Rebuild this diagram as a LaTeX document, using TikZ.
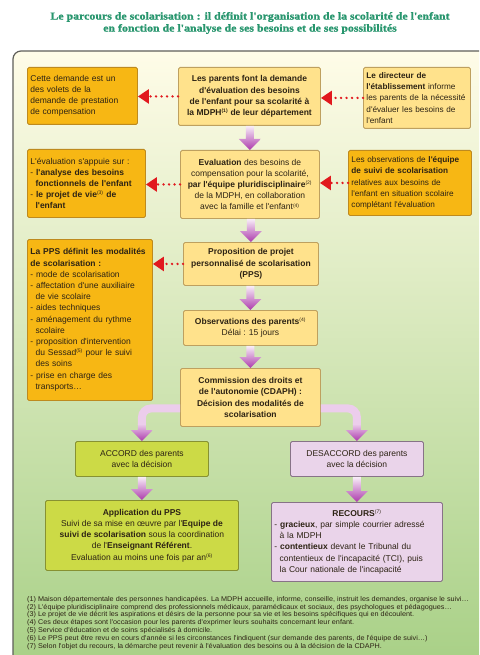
\documentclass[tikz,border=0pt]{standalone}
\usepackage{fontspec}
\setmainfont{Liberation Serif}
\newfontfamily\boxfont{Liberation Sans}
\newfontfamily\notefont[FakeStretch=1.05]{Liberation Sans}
\newfontfamily\titlefont[FakeStretch=1.12,FakeBold=1.2]{Liberation Serif Bold}
\usetikzlibrary{arrows.meta,calc,shadings}

\definecolor{orangebox}{RGB}{247,183,20}
\definecolor{orangeline}{RGB}{190,138,30}
\definecolor{lightbox}{RGB}{255,226,140}
\definecolor{lightline}{RGB}{190,160,95}
\definecolor{greenbox}{RGB}{204,218,70}
\definecolor{greenline}{RGB}{135,145,50}
\definecolor{pinkbox}{RGB}{234,212,234}
\definecolor{pinkline}{RGB}{135,115,135}
\definecolor{titlecol}{RGB}{40,150,110}
\definecolor{txt}{RGB}{45,35,20}
\definecolor{dotred}{RGB}{225,25,30}
\definecolor{arrtop}{RGB}{248,238,248}
\definecolor{arrbot}{RGB}{172,58,172}
\definecolor{linklilac}{RGB}{236,205,236}
\definecolor{bgtop}{RGB}{255,252,232}
\definecolor{bgmid}{RGB}{220,235,194}
\definecolor{bgbot}{RGB}{166,207,132}
\definecolor{framecol}{RGB}{95,95,90}

\newcommand{\fnm}[1]{\textsuperscript{\fontsize{5}{5}\selectfont(#1)}}
\newcommand{\indt}{\hspace*{0.61em}}
\newcommand{\DownArr}[3][arrtop]{%
  \shade[top color=#1, bottom color=arrbot] let \p1=#2, \p2=#3 in
  (\x2-4pt,\y1) -- (\x2-4pt,\y2+11pt) -- (\x2-11pt,\y2+11pt) -- (\x2,\y2)
  -- (\x2+11pt,\y2+11pt) -- (\x2+4pt,\y2+11pt) -- (\x2+4pt,\y1) -- cycle;}

\tikzset{
  bx/.style={draw, line width=0.9pt, rounded corners=1.5pt, anchor=north west,
    inner xsep=3pt, inner ysep=2pt, text=txt,
    font=\boxfont\fontsize{8.5}{11.2}\selectfont},
  bb/.style={font=\boxfont\bfseries\fontsize{8.5}{11.2}\selectfont},
  sm/.style={font=\boxfont\fontsize{8.2}{11.2}\selectfont},
  orng/.style={bx, fill=orangebox, draw=orangeline, align=left},
  lite/.style={bx, fill=lightbox, draw=lightline, align=center},
  grn/.style={bx, fill=greenbox, draw=greenline, align=center},
  pnk/.style={bx, fill=pinkbox, draw=pinkline, align=center},
  reddots/.style={draw=dotred, line width=2.6pt, dash pattern=on 0pt off 5.5pt,
    line cap=round, -{Triangle[length=11pt,width=14pt]}},
  link/.style={draw=linklilac, line width=8pt, rounded corners=9pt},
}

\begin{document}
\begin{tikzpicture}[x=1pt,y=-1pt]
\path[use as bounding box] (0,0) rectangle (479,655);
\clip (0,0) rectangle (479,655);
\fill[white] (0,0) rectangle (479,655);

% frame with gradient
\shadedraw[top color=bgtop, middle color=bgmid, bottom color=bgbot,
  draw=framecol, line width=1.2pt, rounded corners=8pt] (13,51) rectangle (495,680);

% title
\node[font=\titlefont\fontsize{10.6}{12}\selectfont, text=titlecol, align=center]
  (title) at (250,23) {Le parcours de scolarisation : il définit l'organisation de la scolarité de l'enfant\\
  en fonction de l'analyse de ses besoins et de ses possibilités};

% row 1
\node[orng, text width=104pt, minimum height=57pt] (l1) at (27,67)
  {Cette demande est un\\des volets de la\\demande de prestation\\de compensation};
\node[lite, bb, minimum width=142pt, minimum height=58pt] (c1) at (178,67)
  {Les parents font la demande\\d'évaluation des besoins\\de l'enfant pour sa scolarité à\\la MDPH\fnm{1} de leur département};
\node[bx, sm, fill=lightbox, draw=lightline, align=left, text width=101pt, minimum height=61pt] (r1) at (363,67)
  {\textbf{Le directeur de}\\\textbf{l'établissement} informe\\les parents de la nécessité\\d'évaluer les besoins de\\l'enfant};

% row 2
\node[orng, text width=112pt, minimum height=68pt] (l2) at (27,149)
  {L'évaluation s'appuie sur :\\- \textbf{l'analyse des besoins}\\\indt\textbf{fonctionnels de l'enfant}\\- \textbf{le projet de vie}\fnm{3} \textbf{de}\\\indt\textbf{l'enfant}};
\node[lite, minimum width=139pt, minimum height=68pt] (c2) at (180,150)
  {\textbf{Evaluation} des besoins de\\compensation pour la scolarité,\\\textbf{par l'équipe pluridisciplinaire}\fnm{2}\\de la MDPH, en collaboration\\avec la famille et l'enfant\fnm{4}};
\node[orng, sm, text width=117pt, minimum height=65pt] (r2) at (348,150)
  {Les observations de \textbf{l'équipe}\\\textbf{de suivi de scolarisation}\\relatives aux besoins de\\l'enfant en situation scolaire\\complétant l'évaluation};

% row 3
\node[orng, text width=119pt, minimum height=161pt] (l3) at (27,239)
  {\textbf{La PPS définit les modalités}\\\textbf{de scolarisation :}\\- mode de scolarisation\\- affectation d'une auxiliaire\\\indt de vie scolaire\\- aides techniques\\- aménagement du rythme\\\indt scolaire\\- proposition d'intervention\\\indt du Sessad\fnm{5} pour le suivi\\\indt des soins\\- prise en charge des\\\indt transports…};
\node[lite, bb, minimum width=135pt, minimum height=43pt] (c3) at (183,242)
  {Proposition de projet\\personnalisé de scolarisation\\(PPS)};
\node[lite, minimum width=134pt, minimum height=35pt] (obs) at (183,310)
  {\textbf{Observations des parents}\fnm{4}\\Délai : 15 jours};
\node[lite, bb, minimum width=140pt, minimum height=58pt] (com) at (180,368)
  {Commission des droits et\\de l'autonomie (CDAPH) :\\Décision des modalités de\\scolarisation};

% lower
\node[grn, minimum width=133pt, minimum height=35pt] (acc) at (75,441)
  {ACCORD des parents\\avec la décision};
\node[grn, minimum width=193pt, minimum height=70pt] (app) at (45,500)
  {\textbf{Application du PPS}\\Suivi de sa mise en œuvre par l'\textbf{Equipe de}\\\textbf{suivi de scolarisation} sous la coordination\\de l'\textbf{Enseignant Référent}.\\Evaluation au moins une fois par an\fnm{6}};
\node[pnk, minimum width=133pt, minimum height=35pt] (des) at (290,441)
  {DESACCORD des parents\\avec la décision};
\node[pnk, align=left, text width=165pt, minimum height=79pt] (rec) at (271,502)
  {\hfill\textbf{RECOURS}\fnm{7}\hfill\null\\- \textbf{gracieux}, par simple courrier adressé\\\indt à la MDPH\\- \textbf{contentieux} devant le Tribunal du\\\indt contentieux de l'incapacité (TCI), puis\\\indt la Cour nationale de l'incapacité};

% footnotes
\node[anchor=north west, inner sep=0pt, align=left, text=txt,
  font=\notefont\fontsize{6.9}{7.8}\selectfont] (notes) at (27,596)
  {(1) Maison départementale des personnes handicapées. La MDPH accueille, informe, conseille, instruit les demandes, organise le suivi…\\
  (2) L'équipe pluridisciplinaire comprend des professionnels médicaux, paramédicaux et sociaux, des psychologues et pédagogues…\\
  (3) Le projet de vie décrit les aspirations et désirs de la personne pour sa vie et les besoins spécifiques qui en découlent.\\
  (4) Ces deux étapes sont l'occasion pour les parents d'exprimer leurs souhaits concernant leur enfant.\\
  (5) Service d'éducation et de soins spécialisés à domicile.\\
  (6) Le PPS peut être revu en cours d'année si les circonstances l'indiquent (sur demande des parents, de l'équipe de suivi…)\\
  (7) Selon l'objet du recours, la démarche peut revenir à l'évaluation des besoins ou à la décision de la CDAPH.};

% red dotted arrows
\draw[reddots] (c1.west) -- (c1.west -| l1.east);
\draw[reddots] (r1.west) -- (r1.west -| c1.east);
\draw[reddots] (c2.west) -- (c2.west -| l2.east);
\draw[reddots] (r2.west) -- (r2.west -| c2.east);
\draw[reddots] (c3.west) -- (c3.west -| l3.east);

% purple block arrows
\DownArr{(c1.south)}{(c2.north)}
\DownArr{(c2.south)}{(c3.north)}
\DownArr{(c3.south)}{(obs.north)}
\DownArr{(obs.south)}{(com.north)}
\DownArr{(acc.south)}{(app.north)}
\DownArr{(des.south)}{(rec.north)}

% L-shaped connectors from commission
\coordinate (cl) at ($(com.west)+(0,11)$);
\coordinate (cr) at ($(com.east)+(0,11)$);
\draw[link] (cl) -- (cl -| acc.north) -- ($(acc.north)+(0,-16)$);
\draw[link] (cr) -- (cr -| des.north) -- ($(des.north)+(0,-16)$);
\DownArr[linklilac]{($(acc.north)+(0,-17)$)}{(acc.north)}
\DownArr[linklilac]{($(des.north)+(0,-17)$)}{(des.north)}
\end{tikzpicture}
\end{document}
